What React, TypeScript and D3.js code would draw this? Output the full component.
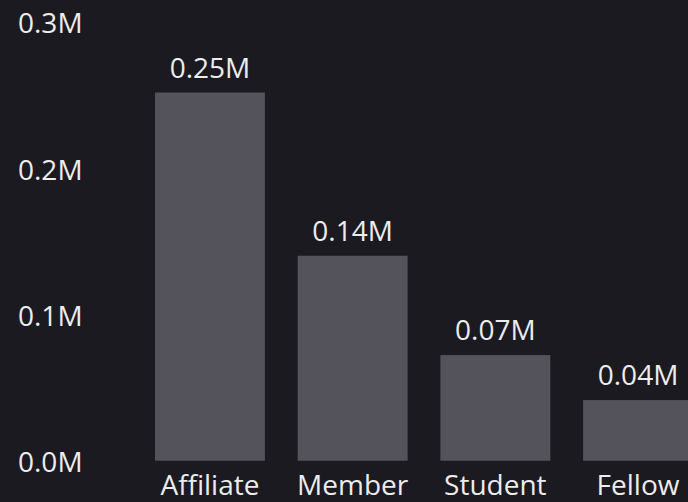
import React from "react"
import * as d3 from "d3"

const categories = ["Affiliate", "Member", "Student", "Fellow"]
const values = [0.252, 0.1403, 0.0723, 0.0415] // in millions
const valueLabels = ["0.25M", "0.14M", "0.07M", "0.04M"]
const yTicks = [0, 0.1, 0.2, 0.3]
const yTickLabels = ["0.0M", "0.1M", "0.2M", "0.3M"]

const W = 688
const H = 502
const BG = "#1b1a21"
const BAR = "#54535b"
const TEXT = "#ececec"
const FONT = "'Open Sans', 'Noto Sans', sans-serif"
const FS = 28

export default function App() {
    const x = d3
        .scaleBand<string>()
        .domain(categories)
        .range([138.6, 709.4])
        .paddingInner(0.23)
        .paddingOuter(0.115)
    const y = d3.scaleLinear().domain([0, 0.3]).range([460.7, 22.4])

    return (
        <div style={{ position: "fixed", left: 0, top: 0, width: W, height: H, background: BG }}>
            <svg width={W} height={H} style={{ display: "block" }} fontFamily={FONT}>
                <rect width={W} height={H} fill={BG} />
                {/* y axis labels, baseline sits a little under the value line */}
                {yTicks.map((t, i) => (
                    <text key={t} x={18} y={y(t) + 11} fill={TEXT} fontSize={FS}>
                        {yTickLabels[i]}
                    </text>
                ))}
                {/* bars */}
                {categories.map((c, i) => (
                    <rect
                        key={c}
                        x={x(c)}
                        y={y(values[i])}
                        width={x.bandwidth()}
                        height={y(0) - y(values[i])}
                        fill={BAR}
                    />
                ))}
                {/* value labels */}
                {categories.map((c, i) => (
                    <text
                        key={c + "-v"}
                        x={(x(c) ?? 0) + x.bandwidth() / 2}
                        y={y(values[i]) - 15}
                        fill={TEXT}
                        fontSize={FS}
                        textAnchor="middle"
                    >
                        {valueLabels[i]}
                    </text>
                ))}
                {/* category labels */}
                {categories.map((c) => (
                    <text
                        key={c + "-c"}
                        x={(x(c) ?? 0) + x.bandwidth() / 2}
                        y={495}
                        fill={TEXT}
                        fontSize={FS}
                        textAnchor="middle"
                    >
                        {c}
                    </text>
                ))}
            </svg>
        </div>
    )
}
